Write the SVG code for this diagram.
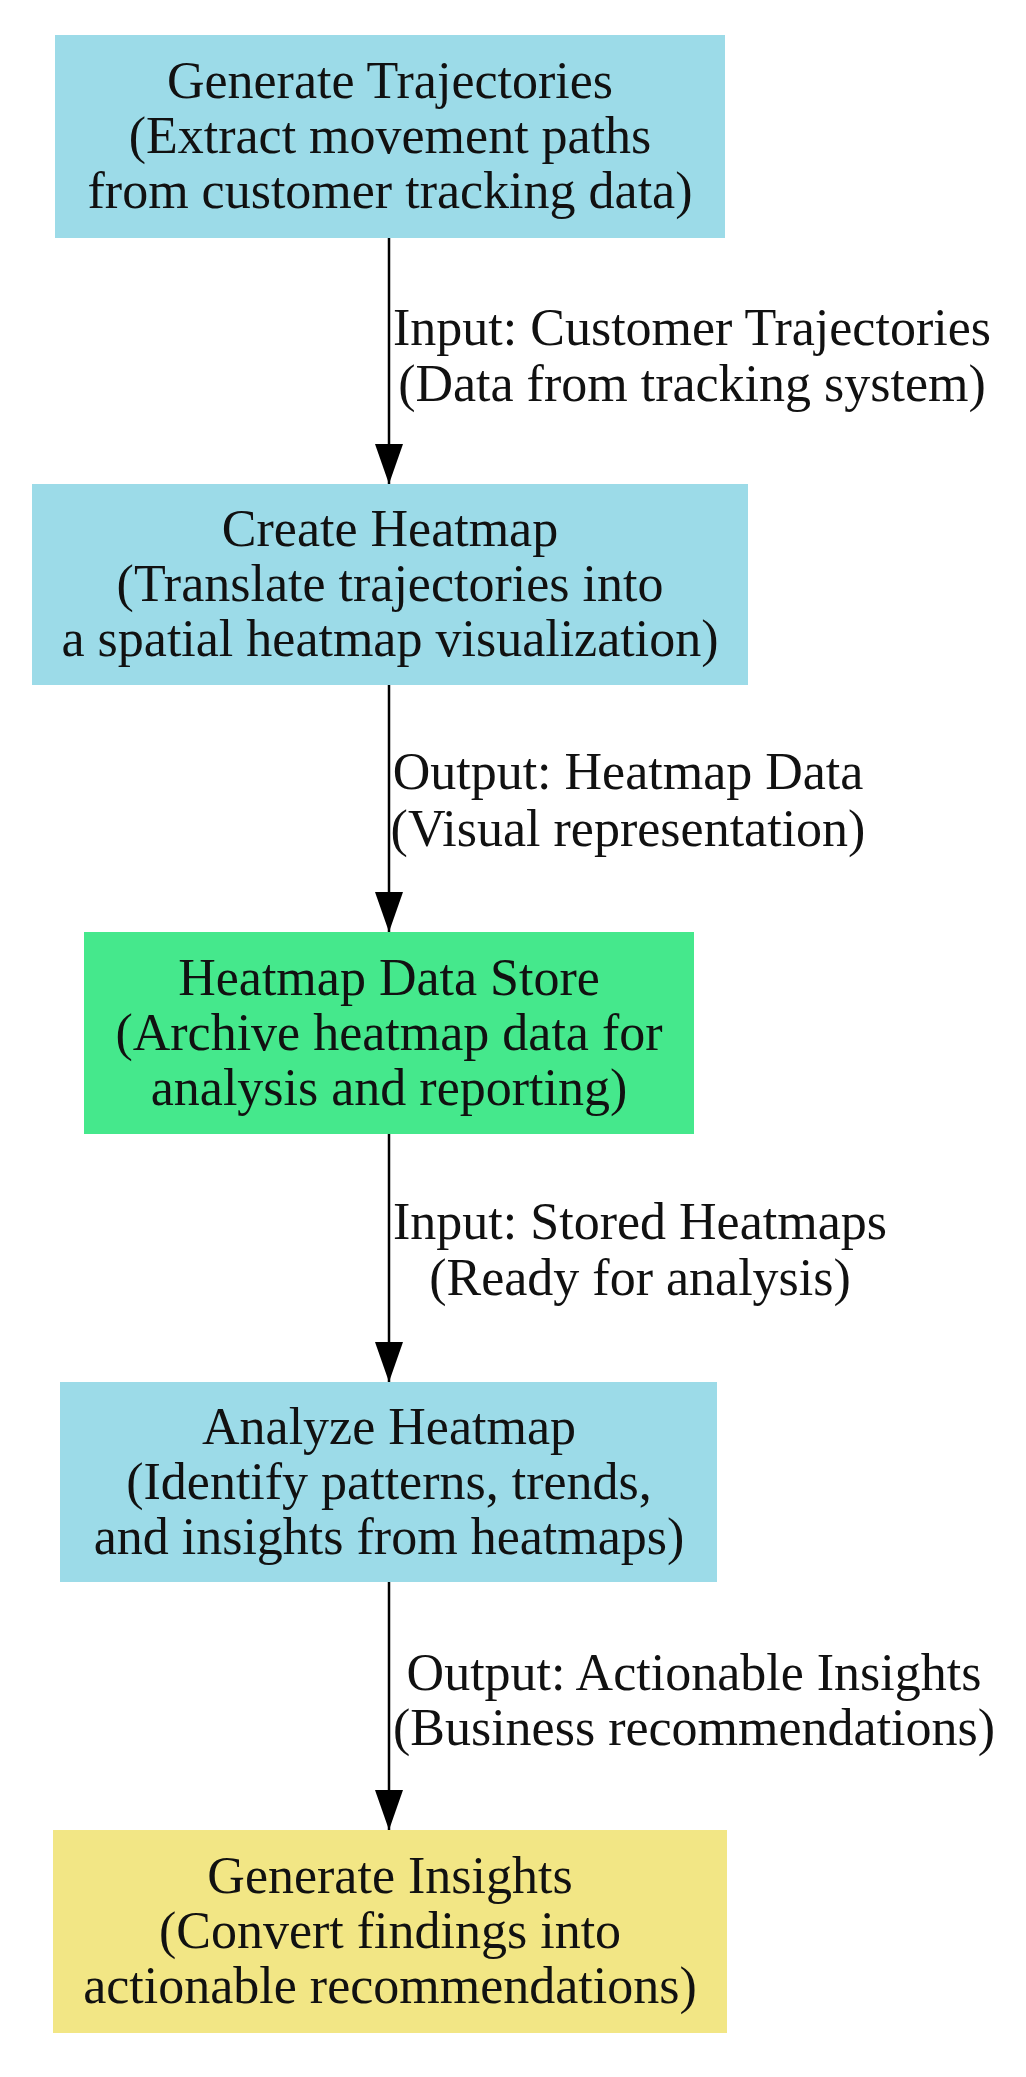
<svg xmlns="http://www.w3.org/2000/svg" width="1026" height="2077" viewBox="0 0 1026 2077">
<style>
text{font-family:"Liberation Serif","Times New Roman",serif;font-size:52px;fill:#111;text-anchor:middle}
.e{stroke:#000;stroke-width:2.5;fill:none}
</style>
<defs>
<marker id="a" viewBox="0 0 40 28" refX="40" refY="14" markerWidth="40" markerHeight="28" orient="auto" markerUnits="userSpaceOnUse"><path d="M0,0L40,14L0,28z" fill="#000"/></marker></defs>
<rect width="1026" height="2077" fill="#fff"/>
<g id="edges">
<line class="e" x1="389" y1="238" x2="389" y2="484" marker-end="url(#a)"/>
<line class="e" x1="389" y1="685" x2="389" y2="932" marker-end="url(#a)"/>
<line class="e" x1="389" y1="1134" x2="389" y2="1382" marker-end="url(#a)"/>
<line class="e" x1="389" y1="1582" x2="389" y2="1830" marker-end="url(#a)"/>
<text x="692" y="345">Input: Customer Trajectories</text><text x="692" y="401">(Data from tracking system)</text>
<text x="628" y="789">Output: Heatmap Data</text><text x="628" y="846">(Visual representation)</text>
<text x="640" y="1239">Input: Stored Heatmaps</text><text x="640" y="1295">(Ready for analysis)</text>
<text x="694" y="1690">Output: Actionable Insights</text><text x="694" y="1745">(Business recommendations)</text>
</g>
<g id="n1"><rect x="55" y="35" width="670" height="203" fill="#9cdbe8"/><text x="390" y="98">Generate Trajectories</text><text x="390" y="153">(Extract movement paths</text><text x="390" y="208">from customer tracking data)</text></g>
<g id="n2"><rect x="32" y="484" width="716" height="201" fill="#9cdbe8"/><text x="390" y="546">Create Heatmap</text><text x="390" y="601">(Translate trajectories into</text><text x="390" y="656">a spatial heatmap visualization)</text></g>
<g id="n3"><rect x="84" y="932" width="610" height="202" fill="#45e88c"/><text x="389" y="995">Heatmap Data Store</text><text x="389" y="1050">(Archive heatmap data for</text><text x="389" y="1105">analysis and reporting)</text></g>
<g id="n4"><rect x="60" y="1382" width="657" height="200" fill="#9cdbe8"/><text x="389" y="1444">Analyze Heatmap</text><text x="389" y="1499">(Identify patterns, trends,</text><text x="389" y="1554">and insights from heatmaps)</text></g>
<g id="n5"><rect x="53" y="1830" width="674" height="203" fill="#f2e685"/><text x="390" y="1893">Generate Insights</text><text x="390" y="1948">(Convert findings into</text><text x="390" y="2003">actionable recommendations)</text></g>
</svg>
